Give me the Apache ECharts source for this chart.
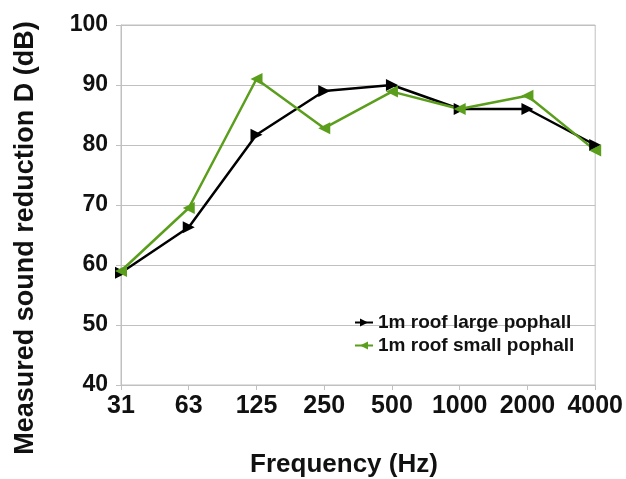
<!DOCTYPE html>
<html>
<head>
<meta charset="utf-8">
<script src="https://cdn.jsdelivr.net/npm/echarts@6/dist/echarts.min.js"></script>
<style>
  html, body { margin: 0; padding: 0; background: #fff; }
  #chart { width: 626px; height: 479px; }
</style>
</head>
<body>
<div id="chart"></div>
<script>
// frequency bands (Hz)
const frequencies = ['31', '63', '125', '250', '500', '1000', '2000', '4000'];
// measured sound reduction D (dB)
const largePophall = [58.7, 66.3, 81.7, 89, 90, 86, 86, 80];
const smallPophall = [59, 69.5, 91, 82.8, 88.9, 86, 88.2, 79.1];

const FONT = '"Liberation Sans", Arial, sans-serif';
const gridGrey = '#c0c0c0';

const chart = echarts.init(document.getElementById('chart'));

const option = {
  backgroundColor: '#fff',
  animation: false,
  grid: {
    left: 121,
    right: 30,
    top: 25,
    bottom: 94,
    show: true,
    borderColor: gridGrey,
    borderWidth: 1
  },
  legend: {
    orient: 'vertical',
    left: 349,
    top: 308,
    itemWidth: 18,
    itemHeight: 10,
    itemGap: 4,
    textStyle: { fontFamily: FONT, fontWeight: 'bold', fontSize: 19, color: '#111' },
    data: ['1m roof large pophall', '1m roof small pophall']
  },
  xAxis: {
    type: 'category',
    data: frequencies,
    boundaryGap: false,
    axisLine: { lineStyle: { color: gridGrey } },
    axisTick: { show: true, length: 5, interval: 0, lineStyle: { color: gridGrey } },
    axisLabel: { interval: 0, fontFamily: FONT, fontWeight: 'bold', fontSize: 25, color: '#111', margin: 9 },
    splitLine: { show: false }
  },
  yAxis: {
    type: 'value',
    min: 40,
    max: 100,
    interval: 10,
    axisLine: { show: true, lineStyle: { color: gridGrey } },
    axisTick: { show: true, length: 5, lineStyle: { color: gridGrey } },
    axisLabel: { fontFamily: FONT, fontWeight: 'bold', fontSize: 23, color: '#111', margin: 13 },
    splitLine: { show: true, lineStyle: { color: gridGrey } }
  },
  graphic: [
    {
      type: 'text',
      x: 26,
      y: 238,
      rotation: Math.PI / 2,
      style: {
        text: 'Measured sound reduction D (dB)',
        font: 'bold 27px ' + FONT,
        fill: '#111',
        textAlign: 'center',
        textVerticalAlign: 'middle'
      }
    },
    {
      type: 'text',
      x: 344,
      y: 465,
      style: {
        text: 'Frequency (Hz)',
        font: 'bold 26px ' + FONT,
        fill: '#111',
        textAlign: 'center',
        textVerticalAlign: 'middle'
      }
    }
  ],
  series: [
    {
      name: '1m roof large pophall',
      type: 'line',
      data: largePophall,
      symbol: 'triangle',
      symbolSize: 12,
      symbolRotate: -90,
      showAllSymbol: true,
      lineStyle: { color: '#000', width: 2.5 },
      itemStyle: { color: '#000' }
    },
    {
      name: '1m roof small pophall',
      type: 'line',
      data: smallPophall,
      symbol: 'triangle',
      symbolSize: 12,
      symbolRotate: 90,
      showAllSymbol: true,
      lineStyle: { color: '#5a9e1c', width: 2.5 },
      itemStyle: { color: '#5a9e1c' }
    }
  ]
};

chart.setOption(option);
window.addEventListener('resize', () => chart.resize());
</script>
</body>
</html>
